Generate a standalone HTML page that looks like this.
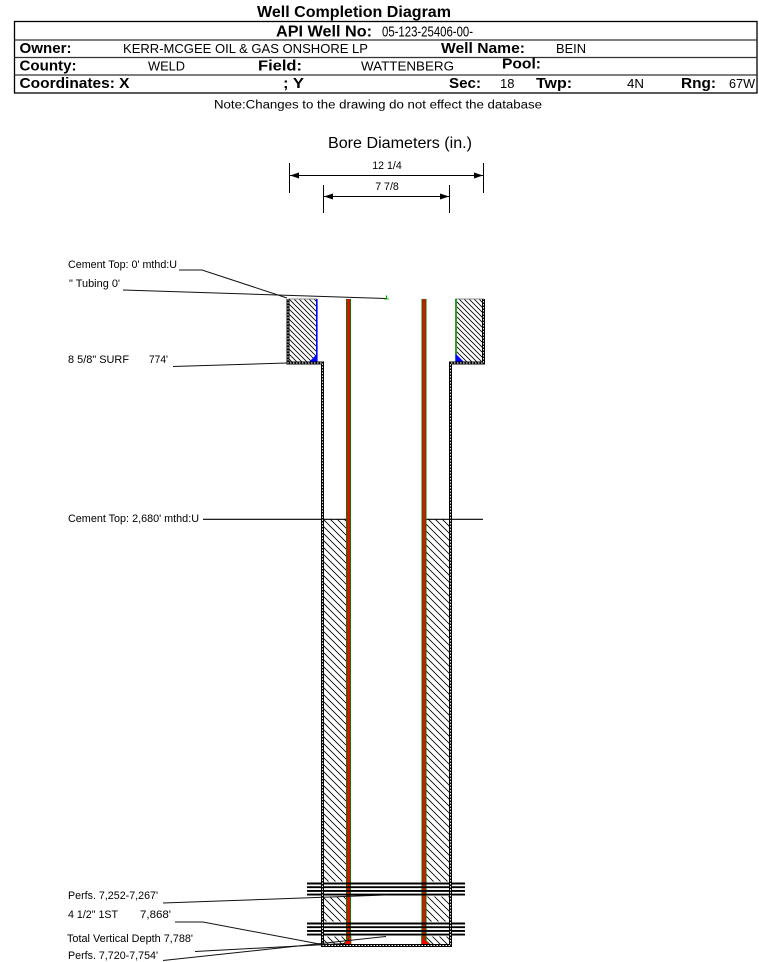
<!DOCTYPE html>
<html><head><meta charset="utf-8"><style>html,body{margin:0;padding:0;background:#fff;width:759px;height:962px;overflow:hidden}svg{display:block}</style></head>
<body>
<svg width="759" height="962" viewBox="0 0 759 962" xmlns="http://www.w3.org/2000/svg" font-family="'Liberation Sans', Arial, sans-serif">
<defs>
<pattern id="hs" width="5" height="5" patternUnits="userSpaceOnUse"><path d="M-1,-1L6,6M4,-1L6,1M-1,4L1,6" stroke="#000" stroke-width="0.8" fill="none"/></pattern>
<pattern id="hp" width="7" height="7" patternUnits="userSpaceOnUse"><path d="M-1,-1L8,8M6,-1L8,1M-1,6L1,8" stroke="#000" stroke-width="0.8" fill="none"/></pattern>
</defs>
<rect width="759" height="962" fill="#fff"/>

<!-- Header -->
<text x="257" y="17" font-size="16" font-weight="bold" textLength="194" lengthAdjust="spacingAndGlyphs">Well Completion Diagram</text>
<rect x="14.5" y="21.5" width="742.5" height="71.5" fill="none" stroke="#000" stroke-width="1.3"/>
<line x1="14.5" y1="40" x2="757" y2="40" stroke="#333" stroke-width="1.2"/>
<line x1="14.5" y1="57.5" x2="757" y2="57.5" stroke="#333" stroke-width="1.2"/>
<line x1="14.5" y1="75" x2="757" y2="75" stroke="#333" stroke-width="1.2"/>

<text x="276" y="36.5" font-size="16" font-weight="bold" textLength="96" lengthAdjust="spacingAndGlyphs">API Well No:</text>
<text x="382" y="36.5" font-size="15" textLength="91" lengthAdjust="spacingAndGlyphs">05-123-25406-00-</text>

<text x="19.5" y="53" font-size="15" font-weight="bold" textLength="52" lengthAdjust="spacingAndGlyphs">Owner:</text>
<text x="123" y="53" font-size="13" textLength="245" lengthAdjust="spacingAndGlyphs">KERR-MCGEE OIL &amp; GAS ONSHORE LP</text>
<text x="441" y="53" font-size="15" font-weight="bold" textLength="84" lengthAdjust="spacingAndGlyphs">Well Name:</text>
<text x="556" y="53" font-size="13" textLength="30" lengthAdjust="spacingAndGlyphs">BEIN</text>

<text x="19.5" y="70.5" font-size="15" font-weight="bold" textLength="57" lengthAdjust="spacingAndGlyphs">County:</text>
<text x="148" y="70.5" font-size="13" textLength="37" lengthAdjust="spacingAndGlyphs">WELD</text>
<text x="258" y="70.5" font-size="15" font-weight="bold" textLength="44" lengthAdjust="spacingAndGlyphs">Field:</text>
<text x="361" y="70.5" font-size="13" textLength="93" lengthAdjust="spacingAndGlyphs">WATTENBERG</text>
<text x="502" y="68.5" font-size="15" font-weight="bold" textLength="39" lengthAdjust="spacingAndGlyphs">Pool:</text>

<text x="19.5" y="88" font-size="15" font-weight="bold" textLength="110" lengthAdjust="spacingAndGlyphs">Coordinates: X</text>
<text x="283" y="88" font-size="15" font-weight="bold" textLength="21" lengthAdjust="spacingAndGlyphs">; Y</text>
<text x="449" y="88" font-size="15" font-weight="bold" textLength="32" lengthAdjust="spacingAndGlyphs">Sec:</text>
<text x="500" y="88" font-size="13" textLength="14.5" lengthAdjust="spacingAndGlyphs">18</text>
<text x="536" y="88" font-size="15" font-weight="bold" textLength="36" lengthAdjust="spacingAndGlyphs">Twp:</text>
<text x="627" y="88" font-size="13" textLength="17" lengthAdjust="spacingAndGlyphs">4N</text>
<text x="681" y="88" font-size="15" font-weight="bold" textLength="35" lengthAdjust="spacingAndGlyphs">Rng:</text>
<text x="729" y="88" font-size="13" textLength="26" lengthAdjust="spacingAndGlyphs">67W</text>

<text x="214" y="108.5" font-size="11.5" textLength="328" lengthAdjust="spacingAndGlyphs">Note:Changes to the drawing do not effect the database</text>

<!-- Bore diameters -->
<text x="328" y="148" font-size="16" textLength="144" lengthAdjust="spacingAndGlyphs">Bore Diameters (in.)</text>
<line x1="289.5" y1="163" x2="289.5" y2="193" stroke="#000" stroke-width="1"/>
<line x1="483.5" y1="163" x2="483.5" y2="193" stroke="#000" stroke-width="1"/>
<line x1="290" y1="175.5" x2="483" y2="175.5" stroke="#000" stroke-width="1"/>
<polygon points="290,175.5 299,172.5 299,178.5" fill="#000"/>
<polygon points="483,175.5 474,172.5 474,178.5" fill="#000"/>
<text x="387" y="169" font-size="10.6" text-anchor="middle">12 1/4</text>
<line x1="323.5" y1="185" x2="323.5" y2="213" stroke="#000" stroke-width="1"/>
<line x1="449.5" y1="185" x2="449.5" y2="213" stroke="#000" stroke-width="1"/>
<line x1="324" y1="196.5" x2="449" y2="196.5" stroke="#000" stroke-width="1"/>
<polygon points="324,196.5 333,193.5 333,199.5" fill="#000"/>
<polygon points="449,196.5 440,193.5 440,199.5" fill="#000"/>
<text x="387" y="190" font-size="10.6" text-anchor="middle">7 7/8</text>

<!-- Surface casing hatch blocks -->
<rect x="289" y="299" width="27" height="63" fill="url(#hs)"/>
<rect x="457" y="299" width="26" height="63" fill="url(#hs)"/>
<line x1="288" y1="299" x2="317" y2="299" stroke="#888" stroke-width="1"/>
<line x1="455" y1="299" x2="484" y2="299" stroke="#888" stroke-width="1"/>
<line x1="316.8" y1="299" x2="316.8" y2="362" stroke="#0000ff" stroke-width="1.6"/>
<line x1="456" y1="299" x2="456" y2="362" stroke="#007a00" stroke-width="1.6"/>
<polygon points="309,362 317.5,362 317.5,353.5" fill="#0000ff"/>
<polygon points="455.5,353.5 455.5,362 464,362" fill="#0000ff"/>

<!-- Production hatch -->
<rect x="324" y="519.5" width="22" height="425" fill="url(#hp)"/>
<rect x="426.5" y="519.5" width="22.5" height="425" fill="url(#hp)"/>
<rect x="324" y="881.5" width="22" height="15" fill="#fff"/>
<rect x="426.5" y="881.5" width="22.5" height="15" fill="#fff"/>
<rect x="324" y="921.5" width="22" height="15" fill="#fff"/>
<rect x="426.5" y="921.5" width="22.5" height="15" fill="#fff"/>

<!-- cement top 2680 line -->
<line x1="203" y1="519.3" x2="346" y2="519.3" stroke="#000" stroke-width="1.1"/>
<line x1="426" y1="519.3" x2="483" y2="519.3" stroke="#000" stroke-width="1.1"/>

<!-- Tubing -->
<rect x="346" y="299" width="5" height="646" fill="#007a00"/>
<rect x="347.2" y="299" width="2.6" height="646" fill="#ff0000"/>
<rect x="421.5" y="299" width="5" height="646" fill="#007a00"/>
<rect x="422.7" y="299" width="2.6" height="646" fill="#ff0000"/>

<!-- bottom red triangles -->
<polygon points="351,936.5 351,945 342,945" fill="#ff0000" stroke="#007a00" stroke-width="0.6"/>
<polygon points="421.5,936.5 421.5,945 431,945" fill="#ff0000" stroke="#007a00" stroke-width="0.6"/>

<!-- Perforation lines -->
<g stroke="#000" stroke-width="1.9">
<line x1="307" y1="883.5" x2="465" y2="883.5"/>
<line x1="307" y1="887.2" x2="465" y2="887.2"/>
<line x1="307" y1="890.9" x2="465" y2="890.9"/>
<line x1="307" y1="894.6" x2="465" y2="894.6"/>
<line x1="307" y1="923.5" x2="465" y2="923.5"/>
<line x1="307" y1="927.2" x2="465" y2="927.2"/>
<line x1="307" y1="930.9" x2="465" y2="930.9"/>
<line x1="307" y1="934.6" x2="465" y2="934.6"/>
</g>

<!-- Casing outline dashed -->
<path d="M288,299 V363 H322.5 V945.5 H450.5 V363 H483.5 V299" fill="none" stroke="#000" stroke-width="3"/>
<path d="M288,299 V363 H322.5 V945.5 H450.5 V363 H483.5 V299" fill="none" stroke="#fff" stroke-width="0.9" stroke-dasharray="1.5,1.5"/>

<!-- Leaders -->
<g stroke="#111" stroke-width="1" fill="none">
<path d="M179,270 H202 L287,298"/>
<path d="M123,290 L386,298.5"/>
<path d="M173,366.5 L287,363"/>
<path d="M163,903 L386,895"/>
<path d="M175,922 H203 L322,944.5"/>
<path d="M195,951.5 L345,943.5"/>
<path d="M163,960.5 L386,936.5"/>
</g>
<line x1="386.5" y1="295.5" x2="386.5" y2="299.5" stroke="#00a000" stroke-width="1.2"/>
<line x1="384" y1="299" x2="389" y2="299" stroke="#00a000" stroke-width="0.8"/>

<!-- Labels -->
<g font-size="10.6" fill="#000">
<text x="68" y="268" textLength="109" lengthAdjust="spacingAndGlyphs">Cement Top: 0' mthd:U</text>
<text x="69" y="287" textLength="51" lengthAdjust="spacingAndGlyphs">" Tubing 0'</text>
<text x="68" y="363" textLength="61" lengthAdjust="spacingAndGlyphs">8 5/8" SURF</text>
<text x="149" y="363" textLength="19" lengthAdjust="spacingAndGlyphs">774'</text>
<text x="68" y="522" textLength="131" lengthAdjust="spacingAndGlyphs">Cement Top: 2,680' mthd:U</text>
<text x="68" y="899" textLength="90" lengthAdjust="spacingAndGlyphs">Perfs. 7,252-7,267'</text>
<text x="68" y="918" textLength="50" lengthAdjust="spacingAndGlyphs">4 1/2" 1ST</text>
<text x="140" y="918" textLength="31" lengthAdjust="spacingAndGlyphs">7,868'</text>
<text x="67" y="942" textLength="126" lengthAdjust="spacingAndGlyphs">Total Vertical Depth 7,788'</text>
<text x="68" y="959" textLength="90" lengthAdjust="spacingAndGlyphs">Perfs. 7,720-7,754'</text>
</g>
</svg>
</body></html>
